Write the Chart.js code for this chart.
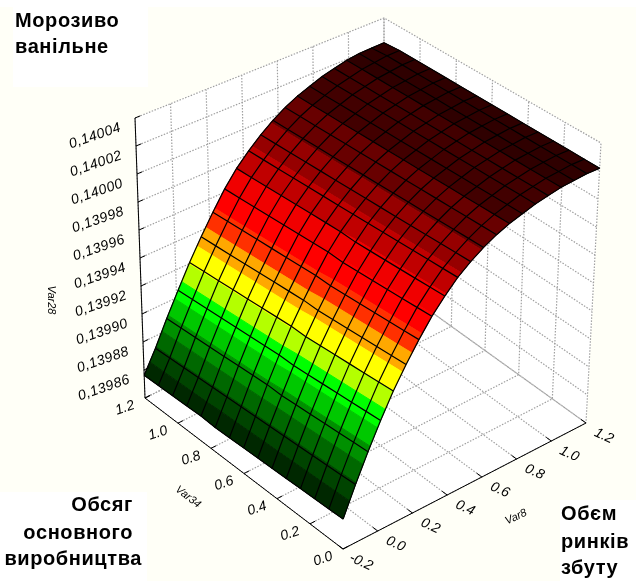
<!DOCTYPE HTML>
<html>

<head>
	<meta charset="UTF-8">
	<title>Морозиво ванільне</title>
	<script src="https://cdn.jsdelivr.net/npm/chart.js"></script>
	<style>
		body {
			margin: 0;
			padding: 0;
			background: #fffff7;
		}

		canvas {
			display: block;
		}
	</style>
</head>

<body>
	<canvas id="surfaceChart" width="636" height="581"></canvas>

	<script>
		// values
		var var8Values = [-0.2, -0.13, -0.06, 0.01, 0.08, 0.15, 0.22, 0.29, 0.36, 0.43, 0.5, 0.57, 0.64, 0.71, 0.78, 0.85, 0.92, 0.99, 1.06, 1.13, 1.2];
		var var34Values = [0, 0.0857, 0.1714, 0.2571, 0.3429, 0.4286, 0.5143, 0.6, 0.6857, 0.7714, 0.8571, 0.9429, 1.0286, 1.1143, 1.2];
		// one row per Var8 value, one column per Var34 value
		var var28Values = [
			[0.139880, 0.139880, 0.139880, 0.139880, 0.139880, 0.139880, 0.139880, 0.139880, 0.139880, 0.139880, 0.139881, 0.139881, 0.139881, 0.139881, 0.139881],
			[0.139899, 0.139899, 0.139899, 0.139899, 0.139899, 0.139899, 0.139899, 0.139899, 0.139899, 0.139899, 0.139899, 0.139899, 0.139899, 0.139899, 0.139899],
			[0.139917, 0.139917, 0.139917, 0.139917, 0.139917, 0.139917, 0.139917, 0.139918, 0.139918, 0.139918, 0.139918, 0.139918, 0.139918, 0.139918, 0.139918],
			[0.139934, 0.139934, 0.139934, 0.139934, 0.139934, 0.139934, 0.139934, 0.139935, 0.139935, 0.139935, 0.139935, 0.139935, 0.139935, 0.139935, 0.139935],
			[0.139950, 0.139950, 0.139950, 0.139950, 0.139950, 0.139950, 0.139950, 0.139951, 0.139951, 0.139951, 0.139951, 0.139951, 0.139951, 0.139951, 0.139951],
			[0.139964, 0.139964, 0.139964, 0.139964, 0.139964, 0.139964, 0.139964, 0.139965, 0.139965, 0.139965, 0.139965, 0.139965, 0.139965, 0.139965, 0.139965],
			[0.139977, 0.139977, 0.139977, 0.139977, 0.139977, 0.139977, 0.139977, 0.139978, 0.139978, 0.139978, 0.139978, 0.139978, 0.139978, 0.139978, 0.139978],
			[0.139989, 0.139989, 0.139989, 0.139989, 0.139989, 0.139989, 0.139989, 0.139990, 0.139990, 0.139990, 0.139990, 0.139990, 0.139990, 0.139990, 0.139990],
			[0.139999, 0.139999, 0.139999, 0.139999, 0.139999, 0.139999, 0.139999, 0.140000, 0.140000, 0.140000, 0.140000, 0.140000, 0.140000, 0.140000, 0.140000],
			[0.140008, 0.140008, 0.140008, 0.140008, 0.140008, 0.140008, 0.140008, 0.140008, 0.140008, 0.140008, 0.140008, 0.140008, 0.140008, 0.140008, 0.140008],
			[0.140015, 0.140015, 0.140015, 0.140015, 0.140015, 0.140015, 0.140015, 0.140015, 0.140015, 0.140015, 0.140015, 0.140015, 0.140015, 0.140015, 0.140015],
			[0.140021, 0.140021, 0.140021, 0.140021, 0.140021, 0.140021, 0.140021, 0.140021, 0.140021, 0.140021, 0.140021, 0.140021, 0.140021, 0.140021, 0.140021],
			[0.140026, 0.140026, 0.140026, 0.140026, 0.140026, 0.140026, 0.140026, 0.140026, 0.140026, 0.140026, 0.140026, 0.140026, 0.140026, 0.140026, 0.140026],
			[0.140030, 0.140030, 0.140030, 0.140030, 0.140030, 0.140030, 0.140030, 0.140030, 0.140030, 0.140030, 0.140030, 0.140030, 0.140030, 0.140030, 0.140030],
			[0.140033, 0.140033, 0.140033, 0.140033, 0.140033, 0.140033, 0.140033, 0.140033, 0.140033, 0.140033, 0.140033, 0.140033, 0.140033, 0.140033, 0.140033],
			[0.140036, 0.140036, 0.140036, 0.140036, 0.140036, 0.140036, 0.140036, 0.140036, 0.140036, 0.140036, 0.140036, 0.140036, 0.140036, 0.140036, 0.140036],
			[0.140038, 0.140038, 0.140038, 0.140038, 0.140038, 0.140038, 0.140038, 0.140038, 0.140038, 0.140038, 0.140038, 0.140038, 0.140038, 0.140038, 0.140038],
			[0.140040, 0.140040, 0.140040, 0.140040, 0.140040, 0.140040, 0.140040, 0.140040, 0.140040, 0.140040, 0.140040, 0.140040, 0.140040, 0.140040, 0.140040],
			[0.140041, 0.140041, 0.140041, 0.140041, 0.140041, 0.140041, 0.140041, 0.140041, 0.140041, 0.140041, 0.140041, 0.140041, 0.140041, 0.140041, 0.140041],
			[0.140042, 0.140042, 0.140042, 0.140042, 0.140042, 0.140042, 0.140042, 0.140042, 0.140042, 0.140042, 0.140042, 0.140042, 0.140042, 0.140042, 0.140041],
			[0.140042, 0.140042, 0.140042, 0.140042, 0.140042, 0.140042, 0.140042, 0.140042, 0.140042, 0.140042, 0.140042, 0.140042, 0.140042, 0.140042, 0.140041]
		];

		// axis ticks
		var zTicks = [0.13986, 0.13988, 0.1399, 0.13992, 0.13994, 0.13996, 0.13998, 0.14, 0.14002, 0.14004, 0.14006];
		var zTickLabels = ['0,13986', '0,13988', '0,13990', '0,13992', '0,13994', '0,13996', '0,13998', '0,14000', '0,14002', '0,14004', ''];
		var var8Ticks = [-0.2, 0, 0.2, 0.4, 0.6, 0.8, 1, 1.2];
		var var8TickLabels = ['-0.2', '0.0', '0.2', '0.4', '0.6', '0.8', '1.0', '1.2'];
		var var34Ticks = [0, 0.2, 0.4, 0.6, 0.8, 1, 1.2];
		var var34TickLabels = ['0.0', '0.2', '0.4', '0.6', '0.8', '1.0', '1.2'];

		// colour bands: bandColors[i] is used below bandLevels[i]
		var bandLevels = [0.13989, 0.1399, 0.13991, 0.13992, 0.13993, 0.13994, 0.13995, 0.13996, 0.13997, 0.13998, 0.13999, 0.14, 0.14001, 0.14002, 0.14003, 0.14004];
		var bandColors = ['#002800', '#004400', '#006800', '#009000', '#00c800', '#00ff00', '#b4ff00', '#ffff00', '#ffa800', '#ff3000', '#ff0000', '#f00000', '#c00000', '#960000', '#680000', '#420000', '#2f0000'];

		// box corners on the picture plane, f = front, l = Var34 max, r = Var8 max, b = back
		var floorCorners = { f: [343, 549], l: [145, 398], r: [586, 423], b: [384, 278] };
		var roofCorners = { f: [344, 250], l: [135, 118], r: [601, 143], b: [384, 18] };
		// the far side of the surface sits a little lower than a straight box mapping gives
		var surfaceSag = 0.04;

		var var8Min = -0.2, var8Max = 1.2, var34Min = 0, var34Max = 1.2, zMin = 0.13986, zMax = 0.14006;

		function project(v8, v34, z, sag) {
			var u = (v8 - var8Min) / (var8Max - var8Min);
			var w = (v34 - var34Min) / (var34Max - var34Min);
			var h = (z - zMin) / (zMax - zMin);
			if (sag) h = h - sag * w * (1 - u) * 4 * h * (1 - h) * 1.6;
			function corner(c) {
				return [
					(1 - u) * (1 - w) * c.f[0] + (1 - u) * w * c.l[0] + u * (1 - w) * c.r[0] + u * w * c.b[0],
					(1 - u) * (1 - w) * c.f[1] + (1 - u) * w * c.l[1] + u * (1 - w) * c.r[1] + u * w * c.b[1]
				];
			}
			var low = corner(floorCorners), high = corner(roofCorners);
			return { x: low[0] + (high[0] - low[0]) * h, y: low[1] + (high[1] - low[1]) * h };
		}

		// cut a cell [v8, v34, z] polygon so that only the part on one side of a level is kept
		function clipPoly(poly, level, keepAbove) {
			var out = [];
			for (var i = 0; i < poly.length; i++) {
				var a = poly[i], b = poly[(i + 1) % poly.length];
				var aIn = keepAbove ? a[2] >= level : a[2] <= level;
				var bIn = keepAbove ? b[2] >= level : b[2] <= level;
				if (aIn) out.push(a);
				if (aIn !== bIn) {
					var t = (level - a[2]) / (b[2] - a[2]);
					out.push([a[0] + (b[0] - a[0]) * t, a[1] + (b[1] - a[1]) * t, level]);
				}
			}
			return out;
		}

		function lineSet(points, color, width, dash, order) {
			return {
				type: 'scatter', data: points, showLine: true, pointRadius: 0, tension: 0, fill: false,
				borderColor: color, borderWidth: width, borderDash: dash || [], order: order
			};
		}

		function polySet(points, color, order) {
			return {
				type: 'scatter', data: points.concat([points[0]]), showLine: true, pointRadius: 0, tension: 0, fill: 'shape',
				backgroundColor: color, borderColor: color, borderWidth: 1, order: order
			};
		}

		var datasets = [];

		// walls and floor
		var wallOrder = 100, gridOrder = 90, cellOrder = 50, meshOrder = 40, axisOrder = 30;
		datasets.push(polySet([project(var8Min, var34Max, zMin), project(var8Max, var34Max, zMin), project(var8Max, var34Max, zMax), project(var8Min, var34Max, zMax)], '#ffffff', wallOrder));
		datasets.push(polySet([project(var8Max, var34Min, zMin), project(var8Max, var34Max, zMin), project(var8Max, var34Max, zMax), project(var8Max, var34Min, zMax)], '#ffffff', wallOrder));
		datasets.push(polySet([project(var8Min, var34Min, zMin), project(var8Max, var34Min, zMin), project(var8Max, var34Max, zMin), project(var8Min, var34Max, zMin)], '#ffffff', wallOrder));

		var gridColor = '#a0a0a0', gridDash = [1.5, 1.5], gridWidth = 1.2;
		var8Ticks.forEach(function (v) {
			datasets.push(lineSet([project(v, var34Min, zMin), project(v, var34Max, zMin), project(v, var34Max, zMax)], gridColor, gridWidth, gridDash, gridOrder));
		});
		var34Ticks.forEach(function (v) {
			datasets.push(lineSet([project(var8Min, v, zMin), project(var8Max, v, zMin), project(var8Max, v, zMax)], gridColor, gridWidth, gridDash, gridOrder));
		});
		zTicks.forEach(function (v) {
			datasets.push(lineSet([project(var8Min, var34Max, v), project(var8Max, var34Max, v), project(var8Max, var34Min, v)], gridColor, gridWidth, gridDash, gridOrder));
		});

		// surface cells, cut along the colour bands
		for (var i = var8Values.length - 2; i >= 0; i--) {
			for (var j = var34Values.length - 2; j >= 0; j--) {
				var cell = [
					[var8Values[i], var34Values[j], var28Values[i][j]],
					[var8Values[i + 1], var34Values[j], var28Values[i + 1][j]],
					[var8Values[i + 1], var34Values[j + 1], var28Values[i + 1][j + 1]],
					[var8Values[i], var34Values[j + 1], var28Values[i][j + 1]]
				];
				for (var k = 0; k < bandColors.length; k++) {
					var piece = cell;
					if (k > 0) piece = clipPoly(piece, bandLevels[k - 1], true);
					if (k < bandLevels.length && piece.length) piece = clipPoly(piece, bandLevels[k], false);
					if (piece.length < 3) continue;
					datasets.push(polySet(piece.map(function (p) { return project(p[0], p[1], p[2], surfaceSag); }), bandColors[k], cellOrder));
				}
			}
		}

		// mesh lines on the surface
		var8Values.forEach(function (v8, r) {
			datasets.push(lineSet(var34Values.map(function (v34, c) { return project(v8, v34, var28Values[r][c], surfaceSag); }), '#000000', 1.2, null, meshOrder));
		});
		var34Values.forEach(function (v34, c) {
			datasets.push(lineSet(var8Values.map(function (v8, r) { return project(v8, v34, var28Values[r][c], surfaceSag); }), '#000000', 1.2, null, meshOrder));
		});

		// axis lines
		datasets.push(lineSet([project(var8Min, var34Max, zMax), project(var8Min, var34Max, zMin), project(var8Min, var34Min, zMin), project(var8Max, var34Min, zMin)], '#000000', 1, null, axisOrder));
		zTicks.forEach(function (v) {
			datasets.push(lineSet([project(var8Min, var34Max, v), project(var8Min + 0.03, var34Max, v)], '#000000', 1, null, axisOrder));
		});
		var8Ticks.forEach(function (v) {
			datasets.push(lineSet([project(v, var34Min, zMin), project(v, var34Min + 0.03, zMin)], '#000000', 1, null, axisOrder));
		});
		var34Ticks.forEach(function (v) {
			datasets.push(lineSet([project(var8Min, v, zMin), project(var8Min + 0.03, v, zMin)], '#000000', 1, null, axisOrder));
		});

		function drawText(ctx, text, x, y, angle, font, align, spacing) {
			ctx.save();
			ctx.translate(x, y);
			ctx.rotate(angle * Math.PI / 180);
			ctx.font = font;
			ctx.textAlign = align || 'center';
			ctx.textBaseline = 'middle';
			ctx.letterSpacing = spacing || '0px';
			ctx.fillStyle = '#000000';
			ctx.fillText(text, 0, 0);
			ctx.restore();
		}

		var textPlugin = {
			id: 'textPlugin',
			beforeDatasetsDraw: function (chart) {
				// white boxes behind the captions
				var ctx = chart.ctx;
				ctx.save();
				ctx.fillStyle = '#ffffff';
				ctx.fillRect(0, 0, 636, 7);
				ctx.fillRect(13, 0, 135, 87);
				ctx.fillRect(0, 492, 147, 89);
				ctx.fillRect(560, 500, 76, 81);
				ctx.restore();
			},
			afterDraw: function (chart) {
				var ctx = chart.ctx, sx = chart.scales.x, sy = chart.scales.y;
				var tickFont = 'italic 14px "Liberation Sans"';
				zTicks.forEach(function (v, n) {
					if (!zTickLabels[n]) return;
					var p = project(var8Min, var34Max, v);
					drawText(ctx, zTickLabels[n], sx.getPixelForValue(p.x) - 41, sy.getPixelForValue(p.y) - 10, -19, tickFont, 'center', '0.5px');
				});
				var34Ticks.forEach(function (v, n) {
					var p = project(var8Min, v, zMin);
					drawText(ctx, var34TickLabels[n], sx.getPixelForValue(p.x) - 20, sy.getPixelForValue(p.y) + 10, -18, tickFont);
				});
				var8Ticks.forEach(function (v, n) {
					var p = project(v, var34Min, zMin);
					drawText(ctx, var8TickLabels[n], sx.getPixelForValue(p.x) + 18, sy.getPixelForValue(p.y) + 13, 25, tickFont);
				});
				var titleFont = 'italic 11px "Liberation Sans"';
				drawText(ctx, 'Var28', 51, 300, 90, titleFont);
				drawText(ctx, 'Var34', 188, 497, 38, titleFont);
				drawText(ctx, 'Var8', 516, 517, -25, titleFont);

				var captionFont = 'bold 20px "Liberation Sans"';
				drawText(ctx, 'Морозиво', 15, 21, 0, captionFont, 'left', '0.6px');
				drawText(ctx, 'ванільне', 15, 47, 0, captionFont, 'left', '0.6px');
				drawText(ctx, 'Обсяг', 133, 505, 0, captionFont, 'right', '0.6px');
				drawText(ctx, 'основного', 133, 533, 0, captionFont, 'right', '0.6px');
				drawText(ctx, 'виробництва', 142, 559, 0, captionFont, 'right', '0.6px');
				drawText(ctx, 'Обєм', 561, 514, 0, captionFont, 'left', '0.6px');
				drawText(ctx, 'ринків', 561, 542, 0, captionFont, 'left', '0.6px');
				drawText(ctx, 'збуту', 561, 568, 0, captionFont, 'left', '0.6px');
			}
		};

		var surfaceChart = new Chart(document.getElementById('surfaceChart').getContext('2d'), {
			type: 'scatter',
			data: { datasets: datasets },
			options: {
				responsive: false,
				animation: false,
				layout: { padding: 0 },
				plugins: { legend: { display: false }, tooltip: { enabled: false } },
				scales: {
					x: { type: 'linear', display: false, min: 0, max: 636 },
					y: { type: 'linear', display: false, min: 0, max: 581, reverse: true }
				}
			},
			plugins: [textPlugin]
		});
	</script>
</body>

</html>
